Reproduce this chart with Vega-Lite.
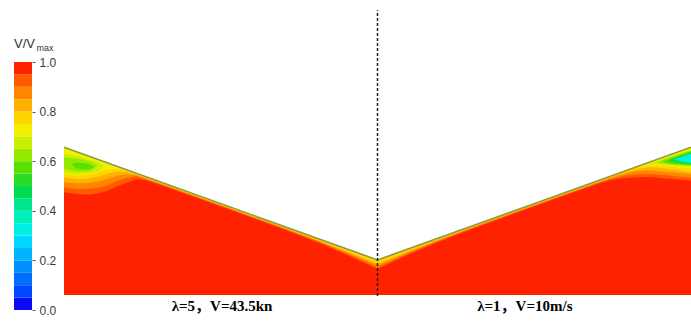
{
  "$schema": "https://vega.github.io/schema/vega-lite/v6.json",
  "background": "white",
  "padding": {"left": 14, "top": 0, "right": 0, "bottom": 0},
  "bounds": "flush",
  "spacing": 32,
  "config": {"view": {"stroke": null}},
  "datasets": {
    "scale": [
      {"lo": 0.00, "hi": 0.05, "v": 0.025},
      {"lo": 0.05, "hi": 0.10, "v": 0.075},
      {"lo": 0.10, "hi": 0.15, "v": 0.125},
      {"lo": 0.15, "hi": 0.20, "v": 0.175},
      {"lo": 0.20, "hi": 0.25, "v": 0.225},
      {"lo": 0.25, "hi": 0.30, "v": 0.275},
      {"lo": 0.30, "hi": 0.35, "v": 0.325},
      {"lo": 0.35, "hi": 0.40, "v": 0.375},
      {"lo": 0.40, "hi": 0.45, "v": 0.425},
      {"lo": 0.45, "hi": 0.50, "v": 0.475},
      {"lo": 0.50, "hi": 0.55, "v": 0.525},
      {"lo": 0.55, "hi": 0.60, "v": 0.575},
      {"lo": 0.60, "hi": 0.65, "v": 0.625},
      {"lo": 0.65, "hi": 0.70, "v": 0.675},
      {"lo": 0.70, "hi": 0.75, "v": 0.725},
      {"lo": 0.75, "hi": 0.80, "v": 0.775},
      {"lo": 0.80, "hi": 0.85, "v": 0.825},
      {"lo": 0.85, "hi": 0.90, "v": 0.875},
      {"lo": 0.90, "hi": 0.95, "v": 0.925},
      {"lo": 0.95, "hi": 1.00, "v": 0.975}
    ],
    "hull": [
      {"x": -100, "top": 47.2},
      {"x": 0, "top": 11.2},
      {"x": 100, "top": 47.2}
    ],
    "bands": [
      {"level": 0.925, "part": "s", "x": -100, "top": 47.2, "bot": 32.9},
      {"level": 0.925, "part": "s", "x": -98, "top": 46.48, "bot": 32.48},
      {"level": 0.925, "part": "s", "x": -95, "top": 45.4, "bot": 32.2},
      {"level": 0.925, "part": "s", "x": -92, "top": 44.32, "bot": 32.12},
      {"level": 0.925, "part": "s", "x": -89, "top": 43.24, "bot": 32.44},
      {"level": 0.925, "part": "s", "x": -86, "top": 42.16, "bot": 33.36},
      {"level": 0.925, "part": "s", "x": -83, "top": 41.08, "bot": 34.78},
      {"level": 0.925, "part": "s", "x": -80, "top": 40.0, "bot": 35.8},
      {"level": 0.925, "part": "s", "x": -77, "top": 38.92, "bot": 37.02},
      {"level": 0.925, "part": "s", "x": -74, "top": 37.84, "bot": 36.64},
      {"level": 0.925, "part": "s", "x": -70, "top": 36.4, "bot": 35.4},
      {"level": 0.925, "part": "s", "x": -60, "top": 32.8, "bot": 31.9},
      {"level": 0.925, "part": "s", "x": -45, "top": 27.4, "bot": 26.5},
      {"level": 0.925, "part": "s", "x": -30, "top": 22.0, "bot": 21.0},
      {"level": 0.925, "part": "s", "x": -18, "top": 17.68, "bot": 16.38},
      {"level": 0.925, "part": "s", "x": -10, "top": 14.8, "bot": 12.9},
      {"level": 0.925, "part": "s", "x": -5, "top": 13.0, "bot": 10.6},
      {"level": 0.925, "part": "s", "x": 0, "top": 11.2, "bot": 8.3},
      {"level": 0.925, "part": "s", "x": 5, "top": 13.0, "bot": 10.6},
      {"level": 0.925, "part": "s", "x": 10, "top": 14.8, "bot": 12.9},
      {"level": 0.925, "part": "s", "x": 18, "top": 17.68, "bot": 16.38},
      {"level": 0.925, "part": "s", "x": 30, "top": 22.0, "bot": 21.0},
      {"level": 0.925, "part": "s", "x": 45, "top": 27.4, "bot": 26.5},
      {"level": 0.925, "part": "s", "x": 60, "top": 32.8, "bot": 31.9},
      {"level": 0.925, "part": "s", "x": 70, "top": 36.4, "bot": 35.4},
      {"level": 0.925, "part": "s", "x": 74, "top": 37.84, "bot": 36.54},
      {"level": 0.925, "part": "s", "x": 77, "top": 38.92, "bot": 37.12},
      {"level": 0.925, "part": "s", "x": 80, "top": 40.0, "bot": 37.4},
      {"level": 0.925, "part": "s", "x": 83, "top": 41.08, "bot": 37.6},
      {"level": 0.925, "part": "s", "x": 86, "top": 42.16, "bot": 37.66},
      {"level": 0.925, "part": "s", "x": 88, "top": 42.88, "bot": 37.58},
      {"level": 0.925, "part": "s", "x": 90, "top": 43.6, "bot": 37.4},
      {"level": 0.925, "part": "s", "x": 92, "top": 44.32, "bot": 37.22},
      {"level": 0.925, "part": "s", "x": 94, "top": 45.04, "bot": 37.04},
      {"level": 0.925, "part": "s", "x": 96, "top": 45.76, "bot": 36.86},
      {"level": 0.925, "part": "s", "x": 98, "top": 46.48, "bot": 36.68},
      {"level": 0.925, "part": "s", "x": 100, "top": 47.2, "bot": 36.5},

      {"level": 0.875, "part": "s", "x": -100, "top": 47.2, "bot": 34.5},
      {"level": 0.875, "part": "s", "x": -98, "top": 46.48, "bot": 34.08},
      {"level": 0.875, "part": "s", "x": -95, "top": 45.4, "bot": 33.8},
      {"level": 0.875, "part": "s", "x": -92, "top": 44.32, "bot": 33.92},
      {"level": 0.875, "part": "s", "x": -89, "top": 43.24, "bot": 34.24},
      {"level": 0.875, "part": "s", "x": -86, "top": 42.16, "bot": 35.16},
      {"level": 0.875, "part": "s", "x": -83, "top": 41.08, "bot": 36.38},
      {"level": 0.875, "part": "s", "x": -80, "top": 40.0, "bot": 37.4},
      {"level": 0.875, "part": "s", "x": -77, "top": 38.92, "bot": 37.92},
      {"level": 0.875, "part": "s", "x": -74, "top": 37.84, "bot": 36.99},
      {"level": 0.875, "part": "s", "x": -70, "top": 36.4, "bot": 35.65},
      {"level": 0.875, "part": "s", "x": -60, "top": 32.8, "bot": 32.1},
      {"level": 0.875, "part": "s", "x": -45, "top": 27.4, "bot": 26.7},
      {"level": 0.875, "part": "s", "x": -30, "top": 22.0, "bot": 21.25},
      {"level": 0.875, "part": "s", "x": -18, "top": 17.68, "bot": 16.68},
      {"level": 0.875, "part": "s", "x": -10, "top": 14.8, "bot": 13.3},
      {"level": 0.875, "part": "s", "x": -5, "top": 13.0, "bot": 11.1},
      {"level": 0.875, "part": "s", "x": 0, "top": 11.2, "bot": 8.9},
      {"level": 0.875, "part": "s", "x": 5, "top": 13.0, "bot": 11.1},
      {"level": 0.875, "part": "s", "x": 10, "top": 14.8, "bot": 13.3},
      {"level": 0.875, "part": "s", "x": 18, "top": 17.68, "bot": 16.68},
      {"level": 0.875, "part": "s", "x": 30, "top": 22.0, "bot": 21.25},
      {"level": 0.875, "part": "s", "x": 45, "top": 27.4, "bot": 26.7},
      {"level": 0.875, "part": "s", "x": 60, "top": 32.8, "bot": 32.1},
      {"level": 0.875, "part": "s", "x": 70, "top": 36.4, "bot": 35.65},
      {"level": 0.875, "part": "s", "x": 74, "top": 37.84, "bot": 36.94},
      {"level": 0.875, "part": "s", "x": 77, "top": 38.92, "bot": 37.72},
      {"level": 0.875, "part": "s", "x": 80, "top": 40.0, "bot": 38.3},
      {"level": 0.875, "part": "s", "x": 83, "top": 41.08, "bot": 38.58},
      {"level": 0.875, "part": "s", "x": 86, "top": 42.16, "bot": 38.66},
      {"level": 0.875, "part": "s", "x": 88, "top": 42.88, "bot": 38.58},
      {"level": 0.875, "part": "s", "x": 90, "top": 43.6, "bot": 38.4},
      {"level": 0.875, "part": "s", "x": 92, "top": 44.32, "bot": 38.22},
      {"level": 0.875, "part": "s", "x": 94, "top": 45.04, "bot": 38.04},
      {"level": 0.875, "part": "s", "x": 96, "top": 45.76, "bot": 37.86},
      {"level": 0.875, "part": "s", "x": 98, "top": 46.48, "bot": 37.68},
      {"level": 0.875, "part": "s", "x": 100, "top": 47.2, "bot": 37.5},

      {"level": 0.825, "part": "s", "x": -100, "top": 47.2, "bot": 36.2},
      {"level": 0.825, "part": "s", "x": -98, "top": 46.48, "bot": 35.88},
      {"level": 0.825, "part": "s", "x": -95, "top": 45.4, "bot": 35.7},
      {"level": 0.825, "part": "s", "x": -92, "top": 44.32, "bot": 35.82},
      {"level": 0.825, "part": "s", "x": -89, "top": 43.24, "bot": 36.34},
      {"level": 0.825, "part": "s", "x": -86, "top": 42.16, "bot": 37.16},
      {"level": 0.825, "part": "s", "x": -83, "top": 41.08, "bot": 38.08},
      {"level": 0.825, "part": "s", "x": -80, "top": 40.0, "bot": 38.6},
      {"level": 0.825, "part": "s", "x": -77, "top": 38.92, "bot": 38.22},
      {"level": 0.825, "part": "s", "x": -74, "top": 37.84, "bot": 37.24},
      {"level": 0.825, "part": "s", "x": -70, "top": 36.4, "bot": 35.85},
      {"level": 0.825, "part": "s", "x": -60, "top": 32.8, "bot": 32.3},
      {"level": 0.825, "part": "s", "x": -45, "top": 27.4, "bot": 26.9},
      {"level": 0.825, "part": "s", "x": -30, "top": 22.0, "bot": 21.45},
      {"level": 0.825, "part": "s", "x": -18, "top": 17.68, "bot": 16.93},
      {"level": 0.825, "part": "s", "x": -10, "top": 14.8, "bot": 13.7},
      {"level": 0.825, "part": "s", "x": -5, "top": 13.0, "bot": 11.6},
      {"level": 0.825, "part": "s", "x": 0, "top": 11.2, "bot": 9.5},
      {"level": 0.825, "part": "s", "x": 5, "top": 13.0, "bot": 11.6},
      {"level": 0.825, "part": "s", "x": 10, "top": 14.8, "bot": 13.7},
      {"level": 0.825, "part": "s", "x": 18, "top": 17.68, "bot": 16.93},
      {"level": 0.825, "part": "s", "x": 30, "top": 22.0, "bot": 21.45},
      {"level": 0.825, "part": "s", "x": 45, "top": 27.4, "bot": 26.9},
      {"level": 0.825, "part": "s", "x": 60, "top": 32.8, "bot": 32.3},
      {"level": 0.825, "part": "s", "x": 70, "top": 36.4, "bot": 35.85},
      {"level": 0.825, "part": "s", "x": 74, "top": 37.84, "bot": 37.24},
      {"level": 0.825, "part": "s", "x": 77, "top": 38.92, "bot": 38.22},
      {"level": 0.825, "part": "s", "x": 80, "top": 40.0, "bot": 39.0},
      {"level": 0.825, "part": "s", "x": 83, "top": 41.08, "bot": 39.58},
      {"level": 0.825, "part": "s", "x": 86, "top": 42.16, "bot": 39.76},
      {"level": 0.825, "part": "s", "x": 88, "top": 42.88, "bot": 39.68},
      {"level": 0.825, "part": "s", "x": 90, "top": 43.6, "bot": 39.5},
      {"level": 0.825, "part": "s", "x": 92, "top": 44.32, "bot": 39.32},
      {"level": 0.825, "part": "s", "x": 94, "top": 45.04, "bot": 39.14},
      {"level": 0.825, "part": "s", "x": 96, "top": 45.76, "bot": 38.96},
      {"level": 0.825, "part": "s", "x": 98, "top": 46.48, "bot": 38.78},
      {"level": 0.825, "part": "s", "x": 100, "top": 47.2, "bot": 38.6},

      {"level": 0.775, "part": "s", "x": -100, "top": 47.2, "bot": 37.5},
      {"level": 0.775, "part": "s", "x": -98, "top": 46.48, "bot": 37.18},
      {"level": 0.775, "part": "s", "x": -95, "top": 45.4, "bot": 37.0},
      {"level": 0.775, "part": "s", "x": -92, "top": 44.32, "bot": 37.22},
      {"level": 0.775, "part": "s", "x": -89, "top": 43.24, "bot": 37.84},
      {"level": 0.775, "part": "s", "x": -86, "top": 42.16, "bot": 38.76},
      {"level": 0.775, "part": "s", "x": -83, "top": 41.08, "bot": 39.48},
      {"level": 0.775, "part": "s", "x": -80, "top": 40.0, "bot": 39.3},
      {"level": 0.775, "part": "s", "x": -77, "top": 38.92, "bot": 38.47},
      {"level": 0.775, "part": "s", "x": -74, "top": 37.84, "bot": 37.44},
      {"level": 0.775, "part": "s", "x": -70, "top": 36.4, "bot": 36.0},
      {"level": 0.775, "part": "s", "x": -60, "top": 32.8, "bot": 32.45},
      {"level": 0.775, "part": "s", "x": -45, "top": 27.4, "bot": 27.05},
      {"level": 0.775, "part": "s", "x": -30, "top": 22.0, "bot": 21.6},
      {"level": 0.775, "part": "s", "x": -18, "top": 17.68, "bot": 17.18},
      {"level": 0.775, "part": "s", "x": -10, "top": 14.8, "bot": 14.0},
      {"level": 0.775, "part": "s", "x": -5, "top": 13.0, "bot": 12.0},
      {"level": 0.775, "part": "s", "x": 0, "top": 11.2, "bot": 10.0},
      {"level": 0.775, "part": "s", "x": 5, "top": 13.0, "bot": 12.0},
      {"level": 0.775, "part": "s", "x": 10, "top": 14.8, "bot": 14.0},
      {"level": 0.775, "part": "s", "x": 18, "top": 17.68, "bot": 17.18},
      {"level": 0.775, "part": "s", "x": 30, "top": 22.0, "bot": 21.6},
      {"level": 0.775, "part": "s", "x": 45, "top": 27.4, "bot": 27.05},
      {"level": 0.775, "part": "s", "x": 60, "top": 32.8, "bot": 32.45},
      {"level": 0.775, "part": "s", "x": 70, "top": 36.4, "bot": 36.0},
      {"level": 0.775, "part": "s", "x": 74, "top": 37.84, "bot": 37.44},
      {"level": 0.775, "part": "s", "x": 77, "top": 38.92, "bot": 38.42},
      {"level": 0.775, "part": "s", "x": 80, "top": 40.0, "bot": 39.35},
      {"level": 0.775, "part": "s", "x": 83, "top": 41.08, "bot": 40.18},
      {"level": 0.775, "part": "s", "x": 86, "top": 42.16, "bot": 40.76},
      {"level": 0.775, "part": "s", "x": 88, "top": 42.88, "bot": 40.78},
      {"level": 0.775, "part": "s", "x": 90, "top": 43.6, "bot": 40.6},
      {"level": 0.775, "part": "s", "x": 92, "top": 44.32, "bot": 40.32},
      {"level": 0.775, "part": "s", "x": 94, "top": 45.04, "bot": 40.04},
      {"level": 0.775, "part": "s", "x": 96, "top": 45.76, "bot": 39.76},
      {"level": 0.775, "part": "s", "x": 98, "top": 46.48, "bot": 39.48},
      {"level": 0.775, "part": "s", "x": 100, "top": 47.2, "bot": 39.2},

      {"level": 0.725, "part": "L", "x": -100, "top": 47.2, "bot": 38.6},
      {"level": 0.725, "part": "L", "x": -98, "top": 46.48, "bot": 38.28},
      {"level": 0.725, "part": "L", "x": -95, "top": 45.4, "bot": 38.2},
      {"level": 0.725, "part": "L", "x": -92, "top": 44.32, "bot": 38.52},
      {"level": 0.725, "part": "L", "x": -89, "top": 43.24, "bot": 39.24},
      {"level": 0.725, "part": "L", "x": -86, "top": 42.16, "bot": 40.16},
      {"level": 0.725, "part": "L", "x": -83, "top": 41.08, "bot": 40.28},
      {"level": 0.725, "part": "L", "x": -80, "top": 40.0, "bot": 39.6},
      {"level": 0.725, "part": "L", "x": -77, "top": 38.92, "bot": 38.62},
      {"level": 0.725, "part": "L", "x": -74, "top": 37.84, "bot": 37.59},
      {"level": 0.725, "part": "R", "x": 82, "top": 40.72, "bot": 40.42},
      {"level": 0.725, "part": "R", "x": 85, "top": 41.8, "bot": 41.1},
      {"level": 0.725, "part": "R", "x": 88, "top": 42.88, "bot": 41.38},
      {"level": 0.725, "part": "R", "x": 90, "top": 43.6, "bot": 41.3},
      {"level": 0.725, "part": "R", "x": 92, "top": 44.32, "bot": 41.12},
      {"level": 0.725, "part": "R", "x": 94, "top": 45.04, "bot": 40.94},
      {"level": 0.725, "part": "R", "x": 96, "top": 45.76, "bot": 40.76},
      {"level": 0.725, "part": "R", "x": 98, "top": 46.48, "bot": 40.58},
      {"level": 0.725, "part": "R", "x": 100, "top": 47.2, "bot": 40.4},

      {"level": 0.675, "part": "L", "x": -100, "top": 45.05, "bot": 39.14},
      {"level": 0.675, "part": "L", "x": -98, "top": 44.79, "bot": 38.82},
      {"level": 0.675, "part": "L", "x": -95, "top": 44.09, "bot": 38.66},
      {"level": 0.675, "part": "L", "x": -92, "top": 43.29, "bot": 38.98},
      {"level": 0.675, "part": "L", "x": -89, "top": 42.33, "bot": 39.62},
      {"level": 0.675, "part": "L", "x": -87.5, "top": 41.37, "bot": 40.89},
      {"level": 0.675, "part": "L", "x": -86.8, "top": 41.15, "bot": 41.15},
      {"level": 0.675, "part": "R", "x": 87, "top": 41.9, "bot": 41.9},
      {"level": 0.675, "part": "R", "x": 90, "top": 42.8, "bot": 41.7},
      {"level": 0.675, "part": "R", "x": 93, "top": 43.93, "bot": 41.45},
      {"level": 0.675, "part": "R", "x": 95, "top": 44.7, "bot": 41.28},
      {"level": 0.675, "part": "R", "x": 97, "top": 45.45, "bot": 41.12},
      {"level": 0.675, "part": "R", "x": 100, "top": 46.49, "bot": 40.95},

      {"level": 0.625, "part": "L", "x": -100, "top": 44.0, "bot": 40.3},
      {"level": 0.625, "part": "L", "x": -99, "top": 43.93, "bot": 39.94},
      {"level": 0.625, "part": "L", "x": -96, "top": 43.61, "bot": 39.46},
      {"level": 0.625, "part": "L", "x": -93, "top": 42.97, "bot": 39.46},
      {"level": 0.625, "part": "L", "x": -91, "top": 42.33, "bot": 39.94},
      {"level": 0.625, "part": "L", "x": -89.5, "top": 41.53, "bot": 41.21},
      {"level": 0.625, "part": "L", "x": -89, "top": 41.37, "bot": 41.37},
      {"level": 0.625, "part": "R", "x": 89, "top": 42.3, "bot": 42.3},
      {"level": 0.625, "part": "R", "x": 92, "top": 43.5, "bot": 41.75},
      {"level": 0.625, "part": "R", "x": 95, "top": 44.55, "bot": 41.5},
      {"level": 0.625, "part": "R", "x": 97.5, "top": 45.35, "bot": 41.35},
      {"level": 0.625, "part": "R", "x": 100, "top": 46.2, "bot": 41.25},

      {"level": 0.575, "part": "L", "x": -97.5, "top": 41.5, "bot": 41.5},
      {"level": 0.575, "part": "L", "x": -96.5, "top": 42.33, "bot": 40.73},
      {"level": 0.575, "part": "L", "x": -94, "top": 42.17, "bot": 40.1},
      {"level": 0.575, "part": "L", "x": -92, "top": 41.69, "bot": 40.26},
      {"level": 0.575, "part": "L", "x": -90.5, "top": 41.05, "bot": 40.73},
      {"level": 0.575, "part": "L", "x": -90, "top": 40.9, "bot": 40.9},
      {"level": 0.575, "part": "R", "x": 91, "top": 42.6, "bot": 42.6},
      {"level": 0.575, "part": "R", "x": 93.5, "top": 43.7, "bot": 42.0},
      {"level": 0.575, "part": "R", "x": 96, "top": 44.55, "bot": 41.75},
      {"level": 0.575, "part": "R", "x": 98, "top": 45.2, "bot": 41.6},
      {"level": 0.575, "part": "R", "x": 100, "top": 45.9, "bot": 41.5},

      {"level": 0.525, "part": "R", "x": 92.5, "top": 42.9, "bot": 42.9},
      {"level": 0.525, "part": "R", "x": 95, "top": 43.9, "bot": 42.2},
      {"level": 0.525, "part": "R", "x": 97.5, "top": 44.75, "bot": 41.95},
      {"level": 0.525, "part": "R", "x": 100, "top": 45.55, "bot": 41.8},

      {"level": 0.475, "part": "R", "x": 93.5, "top": 43.1, "bot": 43.1},
      {"level": 0.475, "part": "R", "x": 96, "top": 44.05, "bot": 42.4},
      {"level": 0.475, "part": "R", "x": 98, "top": 44.75, "bot": 42.15},
      {"level": 0.475, "part": "R", "x": 100, "top": 45.35, "bot": 42.0},

      {"level": 0.375, "part": "R", "x": 94.5, "top": 43.3, "bot": 43.3},
      {"level": 0.375, "part": "R", "x": 97, "top": 44.2, "bot": 42.55},
      {"level": 0.375, "part": "R", "x": 100, "top": 45.1, "bot": 42.2},

      {"level": 0.325, "part": "R", "x": 95.5, "top": 43.5, "bot": 43.5},
      {"level": 0.325, "part": "R", "x": 97.5, "top": 44.2, "bot": 42.75},
      {"level": 0.325, "part": "R", "x": 100, "top": 44.9, "bot": 42.4}
    ]
  },
  "hconcat": [
    {
      "width": 18,
      "height": 323,
      "layer": [
        {
          "data": {"name": "scale"},
          "mark": {"type": "rect"},
          "encoding": {
            "y": {
              "field": "lo", "type": "quantitative",
              "scale": {"domain": [-0.0524, 1.25], "nice": false, "zero": false},
              "axis": {
                "orient": "right", "title": null, "grid": false, "domain": false,
                "values": [0, 0.1, 0.2, 0.3, 0.4, 0.5, 0.6, 0.7, 0.8, 0.9, 1.0],
                "format": ".1f", "tickSize": 3, "tickColor": "#555555", "tickWidth": 1,
                "labelPadding": 4, "labelFont": "Liberation Sans", "labelFontSize": 12,
                "labelColor": "#3c3c3c", "labelOverlap": false, "labelFlush": false
              }
            },
            "y2": {"field": "hi"},
            "color": {
              "field": "v", "type": "quantitative", "legend": null,
              "scale": {
                "type": "quantize", "domain": [0, 1], "nice": false,
                "range": ["#0a0af5", "#0046ff", "#006eff", "#0091ff", "#00b4ff", "#00d7ff", "#00f0e6", "#00f0b9", "#00e68c", "#00dc50", "#28dc28", "#5ae000", "#96ea00", "#c8f000", "#f2f000", "#ffd400", "#ffb000", "#ff8700", "#ff5a00", "#ff2200"]
              }
            }
          }
        },
        {
          "data": {"values": [{}]},
          "mark": {"type": "text", "text": "V/V", "align": "left", "baseline": "alphabetic", "font": "Liberation Sans", "fontSize": 13, "color": "#333333"},
          "encoding": {
            "x": {"datum": 0, "type": "quantitative", "scale": {"domain": [0, 1], "nice": false, "zero": false}, "axis": null},
            "y": {"datum": 1.0565, "type": "quantitative"}
          }
        },
        {
          "data": {"values": [{}]},
          "mark": {"type": "text", "text": "max", "align": "left", "baseline": "alphabetic", "font": "Liberation Sans", "fontSize": 9, "color": "#333333"},
          "encoding": {
            "x": {"datum": 1.25, "type": "quantitative"},
            "y": {"datum": 1.0444, "type": "quantitative"}
          }
        }
      ]
    },
    {
      "width": 627,
      "height": 323,
      "resolve": {"scale": {"color": "independent"}},
      "layer": [
        {
          "data": {"name": "hull"},
          "mark": {"type": "area", "interpolate": "linear", "color": "#ff2200"},
          "encoding": {
            "x": {"field": "x", "type": "quantitative", "scale": {"domain": [-100, 100], "nice": false, "zero": false}, "axis": null},
            "y": {"field": "top", "type": "quantitative", "scale": {"domain": [-8.95, 94.25], "nice": false, "zero": false}, "axis": null, "stack": null},
            "y2": {"datum": 0}
          }
        },
        {
          "data": {"name": "bands"},
          "encoding": {
            "x": {"field": "x", "type": "quantitative", "scale": {"domain": [-100, 100], "nice": false, "zero": false}, "axis": null},
            "y": {"field": "top", "type": "quantitative", "scale": {"domain": [-8.95, 94.25], "nice": false, "zero": false}, "axis": null, "stack": null},
            "y2": {"field": "bot"},
            "color": {
              "field": "level", "type": "quantitative", "legend": null,
              "scale": {
                "type": "quantize", "domain": [0, 1], "nice": false,
                "range": ["#0a0af5", "#0046ff", "#006eff", "#0091ff", "#00b4ff", "#00d7ff", "#00f0e6", "#00f0b9", "#00e68c", "#00dc50", "#28dc28", "#5ae000", "#96ea00", "#c8f000", "#f2f000", "#ffd400", "#ffb000", "#ff8700", "#ff5a00", "#ff2200"]
              }
            },
            "detail": {"field": "part"}
          },
          "layer": [
            {"transform": [{"filter": "datum.level == 0.925"}], "mark": {"type": "area", "interpolate": "linear"}},
            {"transform": [{"filter": "datum.level == 0.875"}], "mark": {"type": "area", "interpolate": "linear"}},
            {"transform": [{"filter": "datum.level == 0.825"}], "mark": {"type": "area", "interpolate": "linear"}},
            {"transform": [{"filter": "datum.level == 0.775"}], "mark": {"type": "area", "interpolate": "linear"}},
            {"transform": [{"filter": "datum.level == 0.725"}], "mark": {"type": "area", "interpolate": "monotone"}},
            {"transform": [{"filter": "datum.level == 0.675"}], "mark": {"type": "area", "interpolate": "monotone"}},
            {"transform": [{"filter": "datum.level == 0.625"}], "mark": {"type": "area", "interpolate": "monotone"}},
            {"transform": [{"filter": "datum.level == 0.575"}], "mark": {"type": "area", "interpolate": "monotone"}},
            {"transform": [{"filter": "datum.level == 0.525"}], "mark": {"type": "area", "interpolate": "monotone"}},
            {"transform": [{"filter": "datum.level == 0.475"}], "mark": {"type": "area", "interpolate": "monotone"}},
            {"transform": [{"filter": "datum.level == 0.375"}], "mark": {"type": "area", "interpolate": "monotone"}},
            {"transform": [{"filter": "datum.level == 0.325"}], "mark": {"type": "area", "interpolate": "monotone"}}
          ]
        },
        {
          "data": {"name": "hull"},
          "mark": {"type": "line", "color": "#8e9a3c", "strokeWidth": 1.6},
          "encoding": {
            "x": {"field": "x", "type": "quantitative", "scale": {"domain": [-100, 100], "nice": false, "zero": false}, "axis": null},
            "y": {"field": "top", "type": "quantitative", "scale": {"domain": [-8.95, 94.25], "nice": false, "zero": false}, "axis": null}
          }
        },
        {
          "data": {"values": [{}]},
          "mark": {"type": "rule", "color": "#1e1e1e", "strokeWidth": 1.5, "strokeDash": [3, 2]},
          "encoding": {
            "x": {"datum": 0, "type": "quantitative", "scale": {"domain": [-100, 100], "nice": false, "zero": false}, "axis": null},
            "y": {"datum": -0.3, "type": "quantitative", "scale": {"domain": [-8.95, 94.25], "nice": false, "zero": false}, "axis": null},
            "y2": {"datum": 91}
          }
        },
        {
          "data": {"values": [{}]},
          "mark": {"type": "text", "text": "λ=5，V=43.5kn", "font": "Liberation Serif, Noto Sans CJK SC", "fontWeight": "bold", "fontSize": 15, "color": "#000000", "align": "center", "baseline": "alphabetic"},
          "encoding": {
            "x": {"datum": -49.6, "type": "quantitative", "scale": {"domain": [-100, 100], "nice": false, "zero": false}, "axis": null},
            "y": {"datum": -5.2, "type": "quantitative", "scale": {"domain": [-8.95, 94.25], "nice": false, "zero": false}, "axis": null}
          }
        },
        {
          "data": {"values": [{}]},
          "mark": {"type": "text", "text": "λ=1，V=10m/s", "font": "Liberation Serif, Noto Sans CJK SC", "fontWeight": "bold", "fontSize": 15, "color": "#000000", "align": "center", "baseline": "alphabetic"},
          "encoding": {
            "x": {"datum": 47, "type": "quantitative", "scale": {"domain": [-100, 100], "nice": false, "zero": false}, "axis": null},
            "y": {"datum": -5.2, "type": "quantitative", "scale": {"domain": [-8.95, 94.25], "nice": false, "zero": false}, "axis": null}
          }
        }
      ]
    }
  ]
}
